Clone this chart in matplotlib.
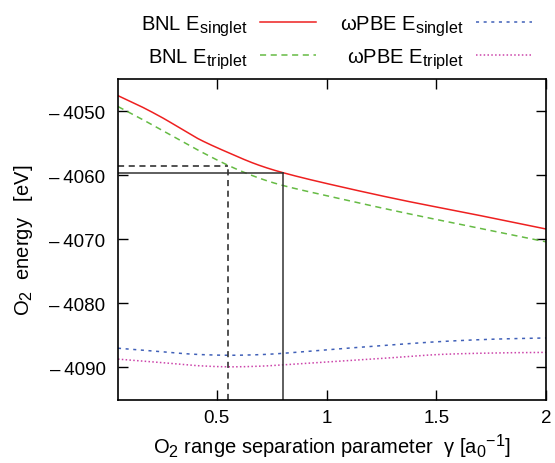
import matplotlib
matplotlib.use("Agg")
import matplotlib.pyplot as plt
import matplotlib._mathtext as _mt
import numpy as np

# gnuplot-like larger sub/superscripts
_mt.SHRINK_FACTOR = 0.8

plt.rcParams['font.family'] = ['Liberation Sans', 'DejaVu Sans']
plt.rcParams['mathtext.fontset'] = 'custom'
plt.rcParams['mathtext.rm'] = 'Liberation Sans'
plt.rcParams['mathtext.it'] = 'Liberation Sans:italic'
plt.rcParams['mathtext.bf'] = 'Liberation Sans:bold'

# gamma values (a0^-1)
gamma_bnl = [0.05, 0.15, 0.25, 0.32, 0.42, 0.56, 0.68, 0.8, 1.0, 1.33, 1.67, 2.0]
bnl_singlet = [-4047.6, -4049.2, -4051.0, -4052.4, -4054.4, -4056.6, -4058.3, -4059.6,
               -4061.3, -4063.8, -4066.1, -4068.4]
bnl_triplet = [-4049.3, -4051.1, -4053.0, -4054.3, -4056.2, -4058.6, -4060.3, -4061.6,
               -4063.2, -4065.7, -4068.1, -4070.4]

gamma_wpbe = [0.05, 0.2, 0.3, 0.4, 0.55, 0.7, 0.8, 1.0, 1.25, 1.5, 1.75, 2.0]
wpbe_singlet = [-4087.0, -4087.4, -4087.7, -4087.95, -4088.1, -4088.0, -4087.8, -4087.25,
                -4086.6, -4086.0, -4085.6, -4085.4]
wpbe_triplet = [-4088.7, -4089.1, -4089.4, -4089.7, -4089.9, -4089.8, -4089.6, -4089.15,
                -4088.6, -4088.0, -4087.75, -4087.65]

# optimal gamma markers
gamma_opt_triplet = 0.55
e_opt_triplet = -4058.6
gamma_opt_singlet = 0.8
e_opt_singlet = -4059.7

xticks = [0.5, 1, 1.5, 2]
xticklabels = ['0.5', '1', '1.5', '2']
yticks = [-4050, -4060, -4070, -4080, -4090]
yticklabels = ['\u2013\u20094050', '\u2013\u20094060', '\u2013\u20094070', '\u2013\u20094080', '\u2013\u20094090']

fig = plt.figure(figsize=(5.55, 4.64), dpi=100)
ax = fig.add_axes([118/555, 1-400.5/464, (546-118)/555, (400.5-80)/464])

xlo, xhi = 0.05, 2.0
ylo, yhi = -4095, -4045

def smooth(xs, ys):
    xs = np.asarray(xs, float); ys = np.asarray(ys, float)
    pts = []
    n = len(xs)
    for i in range(n - 1):
        x0 = xs[max(i-1, 0)]; y0 = ys[max(i-1, 0)]
        x1, y1 = xs[i], ys[i]
        x2, y2 = xs[i+1], ys[i+1]
        x3 = xs[min(i+2, n-1)]; y3 = ys[min(i+2, n-1)]
        m1 = (y2 - y0) / (x2 - x0)
        m2 = (y3 - y1) / (x3 - x1)
        t = np.linspace(0, 1, 30, endpoint=False)
        h = x2 - x1
        h00 = 2*t**3 - 3*t**2 + 1; h10 = t**3 - 2*t**2 + t
        h01 = -2*t**3 + 3*t**2; h11 = t**3 - t**2
        yy = h00*y1 + h10*h*m1 + h01*y2 + h11*h*m2
        xx = x1 + t*h
        pts.append((xx, yy))
    X = np.concatenate([p[0] for p in pts] + [[xs[-1]]])
    Y = np.concatenate([p[1] for p in pts] + [[ys[-1]]])
    return X, Y

lw = 1.1
l1, = ax.plot(*smooth(gamma_bnl, bnl_singlet), color='#EE2020', lw=lw, ls='-',
              label='BNL E$_{\\mathregular{singlet}}$')
l2, = ax.plot(*smooth(gamma_bnl, bnl_triplet), color='#66BB44', lw=lw, ls=(0, (4, 3)),
              label='BNL E$_{\\mathregular{triplet}}$')
l3, = ax.plot(*smooth(gamma_wpbe, wpbe_singlet), color='#4060B8', lw=lw, ls=(0, (2, 3)),
              label='\u03c9PBE E$_{\\mathregular{singlet}}$')
l4, = ax.plot(*smooth(gamma_wpbe, wpbe_triplet), color='#CC44AA', lw=lw, ls=(0, (1, 1.5)),
              label='\u03c9PBE E$_{\\mathregular{triplet}}$')

# reference lines
ax.plot([gamma_opt_triplet, gamma_opt_triplet], [ylo, e_opt_triplet], color='#222222',
        lw=1.1, ls=(0, (4, 3)))
ax.plot([xlo, gamma_opt_triplet], [e_opt_triplet, e_opt_triplet], color='#222222',
        lw=1.1, ls=(0, (4, 3)))
ax.plot([gamma_opt_singlet, gamma_opt_singlet], [ylo, e_opt_singlet], color='#333333',
        lw=1.1, ls='-')
ax.plot([xlo, gamma_opt_singlet], [e_opt_singlet, e_opt_singlet], color='#333333',
        lw=1.1, ls='-')

ax.set_xlim(xlo, xhi)
ax.set_ylim(ylo, yhi)
ax.set_xticks(xticks)
ax.set_xticklabels(xticklabels)
ax.set_yticks(yticks)
ax.set_yticklabels(yticklabels)
ax.tick_params(direction='in', length=7, width=1.0, top=True, right=True,
               labelsize=13.5)
ax.tick_params(axis='x', pad=7)
ax.tick_params(axis='y', pad=9)
for s in ax.spines.values():
    s.set_linewidth(1.2)

ax.set_xlabel('O$_\\mathregular{2}$ range separation parameter  \u03b3 [a$_\\mathregular{0}$$^{\\mathregular{\u22121}}$]',
              fontsize=14.5, labelpad=4)
ax.set_ylabel('O$_\\mathregular{2}$  energy   [eV]', fontsize=14.5, labelpad=10)

leg = fig.legend(handles=[l1, l2, l3, l4], ncol=2, markerfirst=False, frameon=False,
                 loc='upper left', bbox_to_anchor=(0.232, 0.995), fontsize=14.5,
                 handlelength=2.8, columnspacing=1.2, labelspacing=0.45, handletextpad=0.6,
                 borderaxespad=0.2)

fig.savefig('out.png', dpi=100)
